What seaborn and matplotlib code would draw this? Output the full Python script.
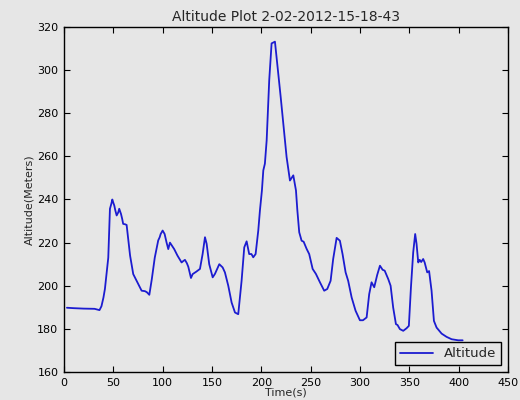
import matplotlib
matplotlib.use('Agg')
import matplotlib.pyplot as plt
import seaborn as sns
import pandas as pd

# Time (s) and altitude (m)
time_s = [3, 10, 20, 31, 36, 38, 40, 41.5, 44.9, 46.6, 48, 49, 50, 51, 52, 53.4, 55, 56,
          57.8, 59, 60, 62, 63.5, 65, 67, 70.2, 73.6, 76, 78.7, 82, 84, 86.5, 89, 92,
          95.5, 97, 98, 100, 102, 104, 105.7, 107.4, 109.5, 111.7, 115, 119.2, 121,
          122.6, 124.5, 126, 128.7, 130.4, 134, 137.8, 140.5, 142.9, 144.6, 147.2,
          150.7, 153, 157.4, 160.8, 163.1, 166.5, 169.9, 173.3, 176.6, 180, 182.7,
          185.1, 187.7, 190, 191.8, 194.2, 196.9, 198.6, 200.6, 202, 203.6, 205.4,
          208, 210.4, 213.8, 216.1, 219.6, 222.9, 225.6, 229, 232.4, 235.1, 236.5,
          238.4, 240.8, 242.9, 245.9, 248.5, 252, 255.3, 259.4, 263.7, 266.8, 270.2,
          272.8, 276.3, 279.6, 282.3, 285.4, 288, 291.5, 295.5, 299.9, 303, 306.7,
          309.3, 311.7, 314.4, 317.4, 320.2, 322.9, 325, 328.6, 331, 333.6, 336.4,
          338, 340.4, 343.8, 347.2, 349.5, 351.6, 353.9, 355.9, 357.3, 359, 360.5,
          362, 364, 365.5, 368.1, 370, 372.5, 374.9, 377.6, 382.7, 387.7, 392.8,
          399.5, 404]
altitude_m = [189.8, 189.6, 189.4, 189.3, 188.7, 190.5, 194.5, 198.5, 213, 235.7, 238, 240,
              238.5, 237.2, 235, 232.6, 234, 235.7, 233.3, 231, 228.7, 228.5, 228.2, 222,
              214, 205.4, 202.3, 200, 197.7, 197.5, 197, 195.8, 203, 213, 221, 222.5, 224,
              225.6, 224, 220, 217, 220, 218.5, 217, 214, 210.8, 211.5, 212, 210.5, 208.8,
              203.6, 205.4, 206.5, 207.8, 214.7, 222.5, 219.4, 210, 203.9, 205.5, 210,
              208.5, 206.2, 200, 192.2, 187.6, 186.8, 202.3, 217.8, 220.6, 214.7, 214.7,
              213.2, 214.7, 225.6, 235, 244.2, 253.5, 256.6, 267.4, 295.3, 312.4, 313.2,
              303.1, 287.6, 272.1, 259.7, 248.8, 251.2, 244.2, 235, 224.8, 220.9, 220.4,
              217.1, 214.7, 207.8, 205.5, 201.6, 197.7, 198.5, 202.3, 212.4, 222.2, 220.9,
              214.7, 206.2, 202.3, 194.6, 188.4, 184, 184, 185.3, 196.1, 201.6, 199.3, 205,
              209.3, 207.4, 207, 203.1, 200, 189.9, 182.2, 181.8, 179.9, 179.1, 180.3,
              181.4, 199.2, 215.5, 224, 219.4, 210.8, 212, 211, 212.4, 210.8, 206.2, 206.8,
              197.7, 183.7, 180.6, 177.8, 176.3, 175.2, 174.7, 174.7]

df = pd.DataFrame({'time': time_s, 'altitude': altitude_m})

bg = '#e6e6e6'
sns.set_style('ticks')
plt.rcParams['font.family'] = ['DejaVu Sans']

fig = plt.figure(figsize=(5.2, 4.0), dpi=100, facecolor=bg)
ax = fig.add_axes([0.123, 0.07, 0.854, 0.8625])
ax.set_facecolor(bg)

sns.lineplot(data=df, x='time', y='altitude', ax=ax, color='#1c1cd0', linewidth=1.3,
             sort=False, estimator=None, label='Altitude')

ax.set_xlim(0, 450)
ax.set_ylim(160, 320)
ax.set_xticks(range(0, 451, 50))
ax.set_yticks(range(160, 321, 20))
ax.tick_params(direction='in', top=True, right=True, length=4, width=0.8,
               labelsize=8, colors='black', pad=4)
for s in ax.spines.values():
    s.set_visible(True)
    s.set_color('black')
    s.set_linewidth(1.0)

ax.set_title('Altitude Plot 2-02-2012-15-18-43', fontsize=10, pad=4)
ax.set_xlabel('Time(s)', fontsize=8, labelpad=0)
ax.set_ylabel('Altitude(Meters)', fontsize=8, labelpad=2)

leg = ax.legend(loc='lower right', fontsize=9.5, fancybox=False, frameon=True,
                handlelength=2.5, borderaxespad=0.5)
leg.get_frame().set_edgecolor('black')
leg.get_frame().set_facecolor(bg)
leg.get_frame().set_alpha(1)

fig.savefig('out.png', dpi=100, facecolor=bg)
